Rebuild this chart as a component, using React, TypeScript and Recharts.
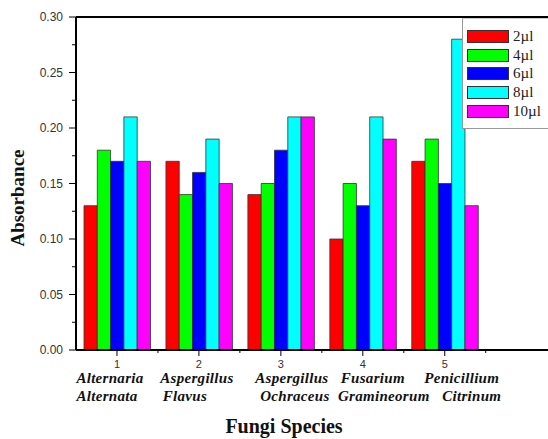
import React from "react";
import { BarChart, Bar, XAxis, YAxis, Legend, ReferenceLine } from "recharts";

const categories = [1, 2, 3, 4, 5];
const genusNames = ["Alternaria", "Aspergillus", "Aspergillus", "Fusarium", "Penicillium"];
const speciesNames = ["Alternata", "Flavus", "Ochraceus", "Gramineorum", "Citrinum"];

const vol2 = [0.13, 0.17, 0.14, 0.1, 0.17];
const vol4 = [0.18, 0.14, 0.15, 0.15, 0.19];
const vol6 = [0.17, 0.16, 0.18, 0.13, 0.15];
const vol8 = [0.21, 0.19, 0.21, 0.21, 0.28];
const vol10 = [0.17, 0.15, 0.21, 0.19, 0.13];

const seriesNames = ["2µl", "4µl", "6µl", "8µl", "10µl"];
const yTicks = [0, 0.025, 0.05, 0.075, 0.1, 0.125, 0.15, 0.175, 0.2, 0.225, 0.25, 0.275, 0.3];
const xTicks = [1, 1.5, 2, 2.5, 3, 3.5, 4, 4.5, 5, 5.5];

const colors = ["#ff0000", "#00ff00", "#0000ff", "#00ffff", "#ff00ff"];
const SERIF = "'Liberation Serif', 'Times New Roman', Times, serif";
const SANS = "'Liberation Sans', Arial, sans-serif";
// label nudges so the two-line names sit like the original
const line1Dx = [-7, -2, 11, 10, 17];
const line2Dx = [-10, -14, 14, 21, 27];

const data = categories.map((c, i) => ({
  x: c,
  v2: vol2[i],
  v4: vol4[i],
  v6: vol6[i],
  v8: vol8[i],
  v10: vol10[i],
}));

const seriesKeys = ["v2", "v4", "v6", "v8", "v10"];

const XTick = (props: any) => {
  const { x, y, payload } = props;
  const v = payload.value;
  const major = Number.isInteger(v);
  if (!major) {
    return <line x1={x} x2={x} y1={y} y2={y + 3} stroke="#000" strokeWidth={1} />;
  }
  const i = categories.indexOf(v);
  return (
    <g>
      <line x1={x} x2={x} y1={y} y2={y + 6} stroke="#000" strokeWidth={1} />
      <text x={x} y={y + 18} textAnchor="middle" fontFamily={SANS} fontSize={11} fill="#333">
        {v}
      </text>
      <text x={x + line1Dx[i]} y={y + 33} textAnchor="middle" fontFamily={SERIF} fontStyle="italic" fontWeight="bold" fontSize={15} letterSpacing={0.3} fill="#111">
        {genusNames[i]}
      </text>
      <text x={x + line2Dx[i]} y={y + 51} textAnchor="middle" fontFamily={SERIF} fontStyle="italic" fontWeight="bold" fontSize={15} letterSpacing={0.3} fill="#111">
        {speciesNames[i]}
      </text>
    </g>
  );
};

const YTick = (props: any) => {
  const { x, y, payload } = props;
  const v = payload.value;
  const major = Math.round(v * 1000) % 50 === 0;
  if (!major) {
    return <line x1={x - 4} x2={x} y1={y} y2={y} stroke="#000" strokeWidth={1} />;
  }
  return (
    <g>
      <line x1={x - 7} x2={x} y1={y} y2={y} stroke="#000" strokeWidth={1} />
      <text x={x - 13} y={y + 4} textAnchor="end" fontFamily={SANS} fontSize={12} fill="#333">
        {v.toFixed(2)}
      </text>
    </g>
  );
};

const LegendBox = (props: any) => {
  const items = [...(props.payload || [])].sort(
    (a: any, b: any) => seriesNames.indexOf(a.value) - seriesNames.indexOf(b.value)
  );
  return (
    <div
      style={{
        width: 86,
        height: 111,
        boxSizing: "border-box",
        borderLeft: "1px solid #999",
        borderBottom: "1px solid #999",
        borderTop: "1px solid #ccc",
        background: "#fff",
        paddingTop: 8,
      }}
    >
      {items.map((p: any, i: number) => (
        <div key={i} style={{ display: "flex", alignItems: "center", height: 18.75, marginLeft: 4 }}>
          <div style={{ width: 42, height: 13, background: p.color, border: "1px solid #333", boxSizing: "border-box" }} />
          <span style={{ marginLeft: 4, fontFamily: SERIF, fontSize: 15, color: "#222", lineHeight: "15px" }}>
            {p.value}
          </span>
        </div>
      ))}
    </div>
  );
};

export default function App() {
  return (
    <div style={{ position: "absolute", left: 0, top: 0, width: 548, height: 439, overflow: "hidden", background: "#fff" }}>
      <BarChart width={548} height={439} data={data} margin={{ top: 17, right: 0, left: 0, bottom: 0 }} barGap={0}>
        <XAxis
          dataKey="x"
          type="number"
          domain={[0.5, 6.26]}
          ticks={xTicks}
          interval={0}
          height={89}
          tickSize={0}
          tickMargin={0}
          tickLine={false}
          axisLine={{ stroke: "#000", strokeWidth: 2 }}
          tick={<XTick />}
          label={{
            content: () => (
              <text x={284} y={433} textAnchor="middle" fontFamily={SERIF} fontWeight="bold" fontSize={20} fill="#111">
                Fungi Species
              </text>
            ),
          }}
        />
        <YAxis
          type="number"
          domain={[0, 0.3]}
          ticks={yTicks}
          interval={0}
          width={76}
          tickSize={0}
          tickMargin={0}
          tickLine={false}
          axisLine={{ stroke: "#000", strokeWidth: 2 }}
          tick={<YTick />}
          label={{
            content: () => (
              <text
                x={24}
                y={198}
                transform="rotate(-90 24 198)"
                textAnchor="middle"
                fontFamily={SERIF}
                fontWeight="bold"
                fontSize={19}
                fill="#111"
              >
                Absorbance
              </text>
            ),
          }}
        />
        <ReferenceLine y={0.3} stroke="#000" strokeWidth={2} />
        <Legend
          layout="vertical"
          align="center"
          verticalAlign="middle"
          content={<LegendBox />}
          wrapperStyle={{ left: 462, top: 18, width: 86 }}
        />
        {seriesKeys.map((k, i) => (
          <Bar
            key={k}
            dataKey={k}
            name={seriesNames[i]}
            fill={colors[i]}
            stroke="#333"
            strokeWidth={0.8}
            barSize={13.3}
            isAnimationActive={false}
          />
        ))}
      </BarChart>
    </div>
  );
}
